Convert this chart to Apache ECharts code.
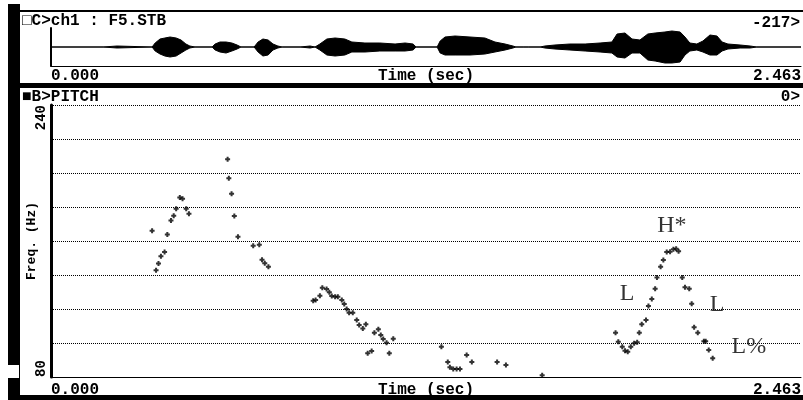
<!DOCTYPE html>
<html><head><meta charset="utf-8">
<script src="https://cdn.jsdelivr.net/npm/echarts@6/dist/echarts.min.js"></script>
<style>html,body{margin:0;padding:0;background:#fff}#c{width:803px;height:400px}</style>
</head><body><div id="c"></div>
<script>
// ---- data ----
const timeRange = [0, 2.463];
const timeTickLabels = [0, 2.463];
const freqTickLabels = [80, 240];
// waveform envelope (relative amplitude, full scale = 19)
const waveTime  = [0,0.171,0.174,0.217,0.220,0.332,0.342,0.358,0.374,0.391,0.411,0.427,0.443,0.456,0.473,0.529,0.539,0.555,0.575,0.594,0.611,0.624,0.667,0.680,0.696,0.713,0.729,0.745,0.759,0.818,0.821,0.851,0.854,0.867,0.883,0.906,0.933,0.965,0.988,1.031,1.080,1.130,1.163,1.189,1.199,1.268,1.278,1.294,1.327,1.376,1.425,1.458,1.491,1.517,1.527,1.553,1.557,1.567,1.606,1.622,1.655,1.704,1.754,1.803,1.842,1.859,1.885,1.908,1.934,1.960,1.984,2.016,2.039,2.066,2.082,2.098,2.121,2.141,2.164,2.187,2.204,2.223,2.263,2.296,2.318,2.463];
const waveUpper = [0,0,1,1,0,0,4,8,9,10,9,7,3,1,0,0,3,5,5,4,2,0,0,5,8,7,3,1,0,0,1,1,0,0,3,8,9,8,5,4,4,3,4,3,0,0,6,10,11,10,9,5,3,1,0,0,1,0,0,1,2,3,3,4,5,13,14,8,7,13,14,15,16,15,10,4,3,6,12,11,5,3,2,1,0,0];
const waveLower = [0,0,1,1,0,0,4,7,9,10,9,6,3,1,0,0,3,5,6,4,2,0,0,5,9,8,3,1,0,0,1,1,0,0,3,8,9,8,5,5,4,4,4,3,0,0,6,8,8,8,7,5,3,1,0,0,1,0,0,1,2,3,4,5,6,10,11,6,6,13,14,16,16,15,8,4,3,5,8,8,4,2,1,1,0,0];
// pitch track (sec, Hz)
const pitchTime = [0.332,0.345,0.353,0.361,0.373,0.382,0.394,0.403,0.411,0.423,0.432,0.444,0.453,0.580,0.584,0.593,0.602,0.614,0.664,0.684,0.693,0.702,0.714,
 0.861,0.869,0.883,0.891,0.905,0.914,0.922,0.933,0.942,0.955,0.963,0.971,0.979,0.991,1.004,1.012,1.024,1.034,1.040,1.053,1.062,1.075,1.083,1.091,1.102,1.111,1.124,
 1.282,1.303,1.310,1.321,1.332,1.343,1.365,1.382,1.465,1.494,1.613,
 1.854,1.863,1.876,1.885,1.894,1.904,1.915,1.925,1.932,1.940,1.954,1.962,1.973,1.984,1.990,2.002,2.011,2.022,2.033,2.044,2.053,2.061,2.073,2.082,2.096,2.104,2.112,2.124,2.144,2.150,2.160,2.173];
const pitchFreq = [166.1,142.8,146.8,151.0,153.6,163.8,172.1,174.8,178.9,185.6,184.8,178.9,176.0,208.1,196.9,187.8,174.7,162.5,157.2,157.8,149.0,146.9,144.9,
 124.9,125.3,127.8,132.5,131.8,129.8,127.6,127.2,127.2,125.3,122.9,120.0,117.8,117.8,113.5,110.6,108.6,111.0,93.9,95.3,106.1,108.1,104.7,102.4,100.2,93.9,102.5,
 97.8,88.8,85.7,84.7,84.7,84.7,92.9,88.8,88.8,87.1,81.0,
 106.1,100.8,97.8,95.5,94.9,97.8,99.8,100.4,106.1,111.0,113.5,121.8,125.9,131.9,138.6,144.9,148.8,153.5,153.7,155.1,155.5,153.9,138.6,132.8,131.9,123.1,109.2,106.1,101.0,101.0,95.9,91.0];
// ToBI annotations
const annoText = ['H*','L','L','L%'];
const annoTime = [2.039,1.892,2.187,2.292];
const annoFreq = [168.8,128.8,122.4,97.6];

// ---- chart ----
const MONO = 'Liberation Mono';
const lblStyle = {fontFamily: MONO, fontWeight: 'bold', fontSize: 16, color: '#000'};
const chart = echarts.init(document.getElementById('c'), null, {renderer: 'canvas'});

function timeAxis(gridIndex, margin){
  return {
    type: 'value', gridIndex, min: timeRange[0], max: timeRange[1],
    axisLine: {show: true, onZero: false, lineStyle: {color: '#000', width: 1}},
    axisTick: {show: false}, splitLine: {show: false},
    axisLabel: Object.assign({customValues: timeTickLabels, formatter: v => v.toFixed(3),
      alignMinLabel: 'left', alignMaxLabel: 'right', margin}, lblStyle),
    name: 'Time (sec)', nameLocation: 'middle', nameGap: margin, nameMoveOverlap: false,
    nameTextStyle: Object.assign({verticalAlign: 'top'}, lblStyle)
  };
}

const wave = (vals, sign) => waveTime.map((t, i) => [t, sign * vals[i]]);

chart.setOption({
  animation: false,
  backgroundColor: '#fff',
  grid: [
    {left: 51, right: 2, top: 28, height: 38, outerBoundsMode: 'none', containLabel: false},
    {left: 51, right: 2, top: 105, height: 272, outerBoundsMode: 'none', containLabel: false}
  ],
  xAxis: [timeAxis(0, 2), timeAxis(1, 5)],
  yAxis: [
    {type: 'value', gridIndex: 0, min: -19, max: 19,
     axisLine: {show: true, lineStyle: {color: '#000', width: 2}},
     axisTick: {show: false}, axisLabel: {show: false}, splitLine: {show: false}},
    {type: 'value', gridIndex: 1, min: 80, max: 240, interval: 20,
     axisLine: {show: true, lineStyle: {color: '#000', width: 3}},
     axisTick: {show: false},
     splitLine: {show: true, lineStyle: {color: '#000', width: 1, type: [1, 1]}},
     axisLabel: Object.assign({customValues: freqTickLabels, rotate: 90, margin: 3,
        alignMinLabel: 'left', alignMaxLabel: 'right'}, lblStyle, {fontSize: 14}),
     name: 'Freq. (Hz)', nameLocation: 'middle', nameRotate: 90, nameGap: 13, nameMoveOverlap: false,
     nameTextStyle: Object.assign({}, lblStyle, {fontSize: 13})}
  ],
  series: [
    {type: 'line', xAxisIndex: 0, yAxisIndex: 0, data: wave(waveUpper, 1), symbol: 'none',
     lineStyle: {color: '#000', width: 1}, areaStyle: {color: '#000', opacity: 1}},
    {type: 'line', xAxisIndex: 0, yAxisIndex: 0, data: wave(waveLower, -1), symbol: 'none',
     lineStyle: {color: '#000', width: 1}, areaStyle: {color: '#000', opacity: 1}},
    {type: 'scatter', xAxisIndex: 1, yAxisIndex: 1,
     data: pitchTime.map((t, i) => [t, pitchFreq[i]]),
     symbol: 'path://M1.5,0H3.5V1.5H5V3.5H3.5V5H1.5V3.5H0V1.5H1.5Z', symbolSize: 5,
     itemStyle: {color: '#000'}},
    {type: 'scatter', xAxisIndex: 1, yAxisIndex: 1, symbolSize: 0,
     data: annoTime.map((t, i) => ({value: [t, annoFreq[i]], label: {formatter: annoText[i]}})),
     label: {show: true, position: 'inside', fontFamily: 'Liberation Serif', fontSize: 24, color: '#000'}}
  ],
  graphic: [
    {type: 'rect', shape: {x: 8, y: 4, width: 12, height: 396}, style: {fill: '#000'}, z: -1},
    {type: 'rect', shape: {x: 8, y: 365, width: 11, height: 13}, style: {fill: '#fff'}, z: -1},
    {type: 'rect', shape: {x: 8, y: 10, width: 795, height: 2}, style: {fill: '#000'}, z: -1},
    {type: 'rect', shape: {x: 8, y: 83, width: 795, height: 5}, style: {fill: '#000'}, z: -1},
    {type: 'rect', shape: {x: 8, y: 395, width: 795, height: 5}, style: {fill: '#000'}, z: -1},
    {type: 'text', left: 22, top: 13, style: {text: '□C>ch1 : F5.STB', font: 'bold 16px "Liberation Mono", "DejaVu Sans Mono"', fill: '#000'}},
    {type: 'text', right: 3, top: 15, style: {text: '-217>', font: 'bold 16px "Liberation Mono", "DejaVu Sans Mono"', fill: '#000'}},
    {type: 'text', left: 22, top: 89, style: {text: '■B>PITCH', font: 'bold 16px "Liberation Mono", "DejaVu Sans Mono"', fill: '#000'}},
    {type: 'text', right: 3, top: 89, style: {text: '0>', font: 'bold 16px "Liberation Mono", "DejaVu Sans Mono"', fill: '#000'}}
  ]
});
</script></body></html>
